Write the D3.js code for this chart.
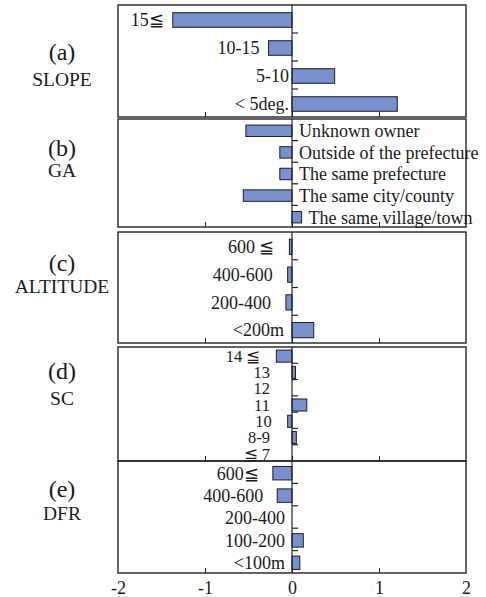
<!DOCTYPE html>
<html>
<head>
<meta charset="utf-8">
<script src="https://cdn.jsdelivr.net/npm/d3@7"></script>
<style>
  body { margin: 0; background: #fff; }
  svg text { font-family: "Liberation Serif", "DejaVu Serif", serif; fill: #1a1a1a; }
  .frame { fill: none; stroke: #222; stroke-width: 1.4px; }
  .bar { fill: #7890cc; stroke: #1c1c2c; stroke-width: 1px; }
  .zero, .ctick { stroke: #222; stroke-width: 1.2px; }
  .inner line { stroke: #222; stroke-width: 1px; }
</style>
</head>
<body>
<div id="chart"></div>
<script>
// data
const slopeCats = ["15≦", "10-15", "5-10", "< 5deg."];
const slopeVals = [-1.37, -0.27, 0.49, 1.21];

const gaCats = ["Unknown owner", "Outside of the prefecture", "The same prefecture", "The same city/county", "The same village/town"];
const gaVals = [-0.53, -0.14, -0.14, -0.56, 0.11];

const altCats = ["600 ≦", "400-600", "200-400", "<200m"];
const altVals = [-0.03, -0.05, -0.07, 0.25];

const scCats = ["14 ≦", "13", "12", "11", "10", "8-9", "≦ 7"];
const scVals = [-0.18, 0.04, 0, 0.17, -0.05, 0.05, 0];

const dfrCats = ["600≦", "400-600", "200-400", "100-200", "<100m"];
const dfrVals = [-0.22, -0.17, 0, 0.13, 0.09];

const panelIds = ["(a)", "(b)", "(c)", "(d)", "(e)"];
const panelNames = ["SLOPE", "GA", "ALTITUDE", "SC", "DFR"];
const xTicks = [-2, -1, 0, 1, 2];

const width = 486, height = 597;

// panel layout (vertical extents, bar thickness, label placement)
const layout = [
  { top: 5,   bottom: 117, barFrac: 0.52, side: "left",  negGap: 9,  posGap: 3,  font: 18,   idY: 55, nameY: 81 },
  { top: 119, bottom: 227, barFrac: 0.53, side: "right", gap: 7,     font: 18,   idY: 37, nameY: 58 },
  { top: 232, bottom: 343, barFrac: 0.55, side: "left",  negGap: 15, posGap: 8,  font: 18,   idY: 39, nameY: 61 },
  { top: 347, bottom: 461, barFrac: 0.74, side: "left",  negGap: 16, posGap: 22, font: 16.5, idY: 32, nameY: 58 },
  { top: 461, bottom: 573, barFrac: 0.6,  side: "left",  negGap: 14, posGap: 7,  font: 18,   idY: 36, nameY: 59 }
];

const panels = [
  [slopeCats, slopeVals],
  [gaCats, gaVals],
  [altCats, altVals],
  [scCats, scVals],
  [dfrCats, dfrVals]
];

const svg = d3.select("#chart").append("svg")
  .attr("width", width)
  .attr("height", height);

const x = d3.scaleLinear().domain([-2, 2]).range([118, 466]);

panels.forEach(([cats, vals], i) => {
  const L = layout[i];
  const g = svg.append("g");
  const data = cats.map((c, k) => ({ cat: c, value: vals[k] }));

  const y = d3.scaleBand().domain(cats).range([L.top, L.bottom]).padding(0);
  const bw = y.bandwidth();
  const bh = bw * L.barFrac;

  // bars
  g.selectAll("rect.bar")
    .data(data.filter(d => d.value !== 0))
    .join("rect")
    .attr("class", "bar")
    .attr("x", d => x(Math.min(0, d.value)))
    .attr("width", d => Math.abs(x(d.value) - x(0)))
    .attr("y", d => y(d.cat) + (bw - bh) / 2 + 1)
    .attr("height", bh);

  // frame
  g.append("rect")
    .attr("class", "frame")
    .attr("x", x(-2)).attr("y", L.top)
    .attr("width", x(2) - x(-2)).attr("height", L.bottom - L.top);

  // inner ticks on the bottom edge
  g.append("g")
    .attr("class", "inner")
    .attr("transform", `translate(0,${L.bottom})`)
    .call(d3.axisBottom(x).tickValues([-1, 0, 1]).tickSize(-5).tickFormat(""))
    .call(a => a.select(".domain").remove());

  // zero line
  g.append("line")
    .attr("class", "zero")
    .attr("x1", x(0)).attr("x2", x(0))
    .attr("y1", L.top).attr("y2", L.bottom);

  // category boundary ticks
  g.selectAll("line.ctick")
    .data(cats.slice(1))
    .join("line")
    .attr("class", "ctick")
    .attr("x1", x(0)).attr("x2", x(0) + 6)
    .attr("y1", d => y(d)).attr("y2", d => y(d));

  // category labels
  g.selectAll("text.cat")
    .data(data)
    .join("text")
    .attr("class", "cat")
    .attr("font-size", L.font)
    .attr("y", d => y(d.cat) + bw / 2 + 1)
    .attr("dy", "0.35em")
    .attr("text-anchor", L.side === "left" ? "end" : "start")
    .attr("x", d => {
      if (L.side === "right") return x(Math.max(0, d.value)) + L.gap;
      return d.value < 0 ? x(d.value) - L.negGap : x(0) - L.posGap;
    })
    .text(d => d.cat);

  // panel titles
  g.append("text")
    .attr("x", 62).attr("y", L.top + L.idY)
    .attr("text-anchor", "middle")
    .attr("font-size", 24)
    .text(panelIds[i]);
  g.append("text")
    .attr("x", 62).attr("y", L.top + L.nameY)
    .attr("text-anchor", "middle")
    .attr("font-size", 19.5)
    .text(panelNames[i]);
});

// bottom value axis
svg.append("g")
  .attr("transform", `translate(0,${layout[4].bottom})`)
  .call(d3.axisBottom(x).tickValues(xTicks).tickSize(0).tickPadding(8)
    .tickFormat(d => (d < 0 ? "-" + Math.abs(d) : String(d))))
  .call(a => a.select(".domain").remove())
  .call(a => a.selectAll("text").attr("font-size", 18)
    .attr("font-family", "Liberation Serif, serif").attr("fill", "#1a1a1a"));
</script>
</body>
</html>
